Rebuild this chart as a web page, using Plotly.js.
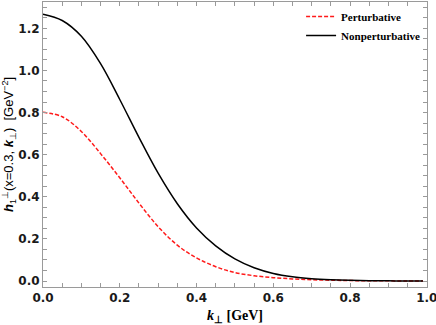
<!DOCTYPE html>
<html>
<head>
<meta charset="utf-8">
<script src="https://cdn.plot.ly/plotly-3.0.1.min.js"></script>
<style>
  html, body { margin: 0; padding: 0; background: #fff; }
  #chart { width: 436px; height: 325px; }
</style>
</head>
<body>
<div id="chart"></div>
<script>
// k_perp in GeV
const kPerp = [0, 0.05, 0.1, 0.15, 0.2, 0.25, 0.3, 0.35, 0.4, 0.45, 0.5,
  0.55, 0.6, 0.65, 0.7, 0.75, 0.8, 0.85, 0.9, 0.95, 0.99];

const perturbative = [0.801, 0.78, 0.71, 0.605, 0.49, 0.37, 0.258, 0.17, 0.11, 0.068, 0.04,
  0.025, 0.016, 0.010, 0.006, 0.004, 0.002, 0.0012, 0.0007, 0.0003, 0.0001];

const nonperturbative = [1.267, 1.237, 1.162, 1.032, 0.862, 0.682, 0.512, 0.367, 0.252, 0.167, 0.105,
  0.063, 0.036, 0.020, 0.011, 0.006, 0.003, 0.0015, 0.0006, 0.0002, 0.0001];

// ticks every 0.05, labels only on the 0.2 steps
const xTickVals = [0, 0.05, 0.1, 0.15, 0.2, 0.25, 0.3, 0.35, 0.4, 0.45, 0.5,
  0.55, 0.6, 0.65, 0.7, 0.75, 0.8, 0.85, 0.9, 0.95, 1.0];
const yTickVals = [0, 0.05, 0.1, 0.15, 0.2, 0.25, 0.3, 0.35, 0.4, 0.45, 0.5,
  0.55, 0.6, 0.65, 0.7, 0.75, 0.8, 0.85, 0.9, 0.95, 1.0, 1.05, 1.1, 1.15, 1.2, 1.25, 1.3];
const majorLabels = ['0.0', '0.2', '0.4', '0.6', '0.8', '1.0', '1.2'];

const xRange = [0, 1.0005];
const yRange = [-0.0285, 1.325];

const frameColor = 'rgb(154,154,154)';
const tickFont = { family: 'DejaVu Sans', size: 12, color: '#1a1a1a', weight: 'bold' };

function tickText(vals) {
  return vals.map((v) => {
    const s = v.toFixed(1);
    return (Math.abs(v * 5 - Math.round(v * 5)) < 1e-6 && majorLabels.includes(s)) ? s : '';
  });
}

function axisBase(vals) {
  return {
    tickmode: 'array',
    tickvals: vals,
    ticktext: tickText(vals),
    ticks: 'inside',
    ticklen: 4,
    tickwidth: 1,
    tickcolor: frameColor,
    ticklabeloverflow: 'allow',
    mirror: 'ticks',
    showline: true,
    linecolor: frameColor,
    linewidth: 1,
    showgrid: false,
    zeroline: false,
    tickfont: tickFont,
  };
}

const traces = [
  {
    x: kPerp,
    y: perturbative,
    name: 'Perturbative',
    type: 'scatter',
    mode: 'lines',
    line: { color: '#ff1a1a', width: 1.5, dash: '4px,2px', shape: 'spline' },
  },
  {
    x: kPerp,
    y: nonperturbative,
    name: 'Nonperturbative',
    type: 'scatter',
    mode: 'lines',
    line: { color: '#000', width: 1.5, shape: 'spline' },
  },
];

const layout = {
  width: 436,
  height: 325,
  margin: { l: 43, r: 9, t: 2, b: 38, pad: 0 },
  paper_bgcolor: '#fff',
  plot_bgcolor: '#fff',
  showlegend: true,
  legend: {
    x: 0.995,
    y: 1,
    xanchor: 'right',
    yanchor: 'top',
    bgcolor: 'rgba(0,0,0,0)',
    itemwidth: 30,
    font: { family: 'Liberation Serif', size: 11, color: '#000', weight: 'bold' },
    tracegroupgap: 0,
  },
  xaxis: Object.assign(axisBase(xTickVals), {
    range: xRange,
    title: {
      text: '<b><i>k</i><sub>⊥</sub> [GeV]</b>',
      font: { family: 'Liberation Serif', size: 14, color: '#000' },
      standoff: 8,
    },
  }),
  yaxis: Object.assign(axisBase(yTickVals), {
    range: yRange,
    title: {
      text: '<b><i>h</i></b><sub>1</sub><sup>⊥</sup>(x=0.3, <b><i>k</i></b><sub>⊥</sub>)  [GeV<sup>−2</sup>]',
      font: { family: 'Liberation Sans', size: 13, color: '#000' },
      standoff: 6,
    },
  }),
};

Plotly.newPlot('chart', traces, layout, { displayModeBar: false });
</script>
</body>
</html>
